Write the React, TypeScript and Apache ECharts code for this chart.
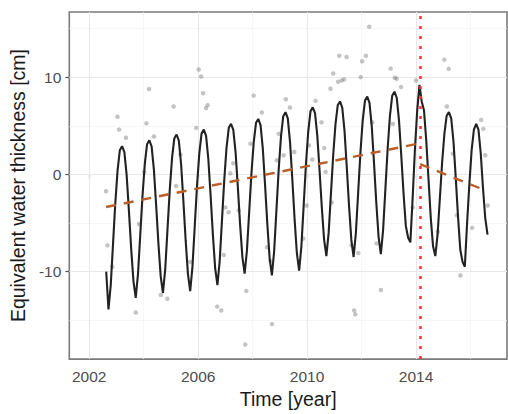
import React, { useEffect, useRef } from "react";
import * as echarts from "echarts";

// Monthly series starts in August 2002
const startYear = 2002;
const startMonth = 8;
const monthlyTWS = [
  -10.0, -13.9, -11.38, -7.18, -2.98,
  0.38, 2.48, 2.9, 2.28, -0.06, -3.73, -7.63, -10.98, -12.7, -10.27, -6.22, -2.17,
  1.07, 3.1, 3.5, 2.87, 0.52, -3.17, -7.1, -10.47, -12.2, -9.76, -5.68, -1.6,
  1.66, 3.69, 4.1, 3.46, 1.04, -2.74, -6.77, -10.23, -12.0, -9.51, -5.36, -1.21,
  2.11, 4.19, 4.6, 3.96, 1.56, -2.2, -6.2, -9.64, -11.4, -8.91, -4.76, -0.61,
  2.71, 4.79, 5.2, 4.58, 2.27, -1.34, -5.2, -8.51, -10.2, -7.82, -3.84, 0.14,
  3.32, 5.3, 5.7, 5.06, 2.64, -1.14, -5.17, -8.63, -10.4, -7.88, -3.68, 0.52,
  3.88, 5.98, 6.4, 5.75, 3.3, -0.53, -4.6, -8.11, -9.9, -7.38, -3.18, 1.02,
  4.38, 6.48, 6.9, 6.29, 3.99, 0.4, -3.43, -6.72, -8.4, -6.02, -2.04, 1.94,
  5.12, 7.1, 7.5, 6.86, 4.46, 0.7, -3.3, -6.74, -8.5, -6.03, -1.9, 2.23,
  5.53, 7.59, 8.0, 7.35, 4.92, 1.12, -2.94, -6.42, -8.2, -5.7, -1.52, 2.66,
  6.0, 8.08, 8.5, 7.88, 5.56, 1.91, -1.96, -5.3, -6.5, -7.0, -2.5, 2.5,
  6.5, 9.2, 7.5, 6.6, 3.5, -0.5, -4.5, -7.4, -8.4, -6.18, -2.48, 1.22,
  4.18, 6.03, 6.4, 5.76, 3.38, -0.36, -4.33, -7.75, -9.0, -9.5, -5.0, -1.0,
  2.5, 4.6, 5.2, 4.6, 2.2, -1.4, -4.5, -6.2,
];

const observations = [
  [2002.62, -1.73], [2002.67, -7.3], [2002.85, -9.5], [2003.04, 5.93], [2003.1, 4.6],
  [2003.35, 3.76], [2003.71, -14.2], [2003.83, -5.1], [2004.02, 0.25], [2004.1, 5.25],
  [2004.2, 8.78], [2004.38, 3.9], [2004.63, -12.4], [2004.87, -12.8], [2005.1, 6.98],
  [2005.19, -1.2], [2005.35, 2.05], [2005.71, -9.0], [2005.93, 4.78], [2006.02, 10.78],
  [2006.11, 10.07], [2006.18, 8.34], [2006.29, 6.81], [2006.35, 7.12], [2006.7, -13.6],
  [2006.85, -14.0], [2006.94, -8.3], [2007.0, -3.4], [2007.12, -3.9], [2007.18, 0.1],
  [2007.29, 1.15], [2007.49, -3.7], [2007.73, -17.5], [2007.77, -12.0], [2007.92, 3.15],
  [2008.04, 8.1], [2008.34, 6.37], [2008.53, -7.5], [2008.65, -8.9], [2008.71, -15.4],
  [2008.89, 1.45], [2008.96, 4.17], [2009.14, 1.96], [2009.22, 7.73], [2009.37, 6.88],
  [2009.53, 2.3], [2009.86, -6.6], [2009.98, -3.2], [2010.07, 2.98], [2010.19, 1.53],
  [2010.31, 7.56], [2010.53, 5.35], [2010.63, 2.7], [2010.68, 0.26], [2010.86, 8.81],
  [2010.9, -2.9], [2010.96, 10.38], [2011.14, 9.52], [2011.18, 12.2], [2011.27, 9.66],
  [2011.36, 9.77], [2011.45, 12.07], [2011.63, -7.3], [2011.73, -14.0], [2011.77, -14.4],
  [2011.88, -8.1], [2011.97, 10.0], [2012.02, 11.63], [2012.16, 12.2], [2012.28, 15.19],
  [2012.39, 5.35], [2012.55, -7.1], [2012.71, -11.9], [2013.07, 10.88], [2013.15, 5.19],
  [2013.22, 9.93], [2013.29, 9.83], [2013.45, 8.98], [2013.88, -3.4], [2014.0, 9.66],
  [2014.8, -5.9], [2015.04, 11.8], [2015.13, 6.98], [2015.2, 10.85], [2015.35, 2.13],
  [2015.5, -4.2], [2015.63, -10.4], [2016.06, -5.5], [2016.39, 5.6], [2016.47, 4.68],
  [2016.54, 1.96], [2016.63, -3.2],
];

const trendBefore = [[2002.62, -3.36], [2014.15, 3.2]];
const trendAfter = [[2014.15, 1.05], [2016.55, -1.65]];
const breakYear = 2014.15;

const xMajor = [2002, 2006, 2010, 2014];
const xMinor = [2004, 2008, 2012, 2016];
const yMajor = [-10, 0, 10];
const yMinor = [-15, -5, 5, 15];

const FONT = "Liberation Sans, Arial, Helvetica, sans-serif";

export default function App() {
  const ref = useRef<HTMLDivElement>(null);
  useEffect(() => {
    document.body.style.margin = "0";
    if (!ref.current) return;
    const chart = echarts.init(ref.current, null, { renderer: "svg" });
    const lineData = monthlyTWS.map((v, i) => [
      startYear + (startMonth - 1 + i + 0.5) / 12,
      v,
    ]);
    const gridLine = (vals: number[], axis: "xAxis" | "yAxis", color: string, width: number) => ({
      type: "line",
      data: [],
      silent: true,
      markLine: {
        z: 1,
        silent: true,
        symbol: ["none", "none"],
        label: { show: false },
        emphasis: { disabled: true },
        lineStyle: { color, width, type: "solid" },
        data: vals.map((v) => ({ [axis]: v })),
      },
    });
    chart.setOption({
      animation: false,
      backgroundColor: "#ffffff",
      grid: {
        left: 69,
        top: 12,
        right: 1,
        bottom: 51,
        show: true,
        borderColor: "#7a7a7a",
        borderWidth: 1.6,
        backgroundColor: "#ffffff",
      },
      xAxis: {
        type: "value",
        min: 2001.27,
        max: 2017.34,
        axisLine: { show: false },
        splitLine: { show: false },
        axisTick: {
          show: true,
          customValues: xMajor,
          length: 4,
          lineStyle: { color: "#555555", width: 1.2 },
        },
        axisLabel: {
          customValues: xMajor,
          margin: 9,
          color: "#4d4d4d",
          fontSize: 15.5,
          fontFamily: FONT,
          formatter: (v: number) => String(v),
        },
        name: "Time [year]",
        nameLocation: "middle",
        nameGap: 29,
        nameTextStyle: { color: "#1a1a1a", fontSize: 19.5, fontFamily: FONT },
      },
      yAxis: {
        type: "value",
        min: -19.0,
        max: 16.7,
        axisLine: { show: false },
        splitLine: { show: false },
        axisTick: {
          show: true,
          customValues: yMajor,
          length: 4,
          lineStyle: { color: "#555555", width: 1.2 },
        },
        axisLabel: {
          customValues: yMajor,
          margin: 8,
          color: "#4d4d4d",
          fontSize: 15.5,
          fontFamily: FONT,
          formatter: (v: number) => String(v),
        },
        name: "Equivalent water thickness [cm]",
        nameLocation: "middle",
        nameGap: 38,
        nameTextStyle: { color: "#1a1a1a", fontSize: 19.5, fontFamily: FONT },
      },
      series: [
        gridLine(xMinor, "xAxis", "#f3f3f3", 0.7),
        gridLine(yMinor, "yAxis", "#f3f3f3", 0.7),
        gridLine(xMajor, "xAxis", "#e8e8e8", 1.1),
        gridLine(yMajor, "yAxis", "#e8e8e8", 1.1),
        {
          type: "scatter",
          data: observations,
          symbolSize: 4.5,
          z: 2,
          itemStyle: { color: "rgba(120,120,120,0.55)" },
          silent: true,
        },
        {
          type: "line",
          data: lineData,
          showSymbol: false,
          z: 3,
          lineStyle: { color: "#222222", width: 2.1 },
          silent: true,
        },
        {
          type: "line",
          data: trendBefore,
          showSymbol: false,
          z: 4,
          lineStyle: { color: "#bb5e27", width: 2.4, type: [10, 8] },
          silent: true,
        },
        {
          type: "line",
          data: trendAfter,
          showSymbol: false,
          z: 4,
          lineStyle: { color: "#bb5e27", width: 2.4, type: [10, 8] },
          silent: true,
          markLine: {
            z: 10,
            silent: true,
            symbol: ["none", "none"],
            label: { show: false },
            emphasis: { disabled: true },
            lineStyle: { color: "#ff3333", width: 2.5, type: [3, 7] },
            data: [{ xAxis: breakYear }],
          },
        },
      ],
    });
    return () => chart.dispose();
  }, []);
  return (
    <div
      ref={ref}
      style={{ width: 508, height: 414, position: "absolute", left: 0, top: 0 }}
    />
  );
}
